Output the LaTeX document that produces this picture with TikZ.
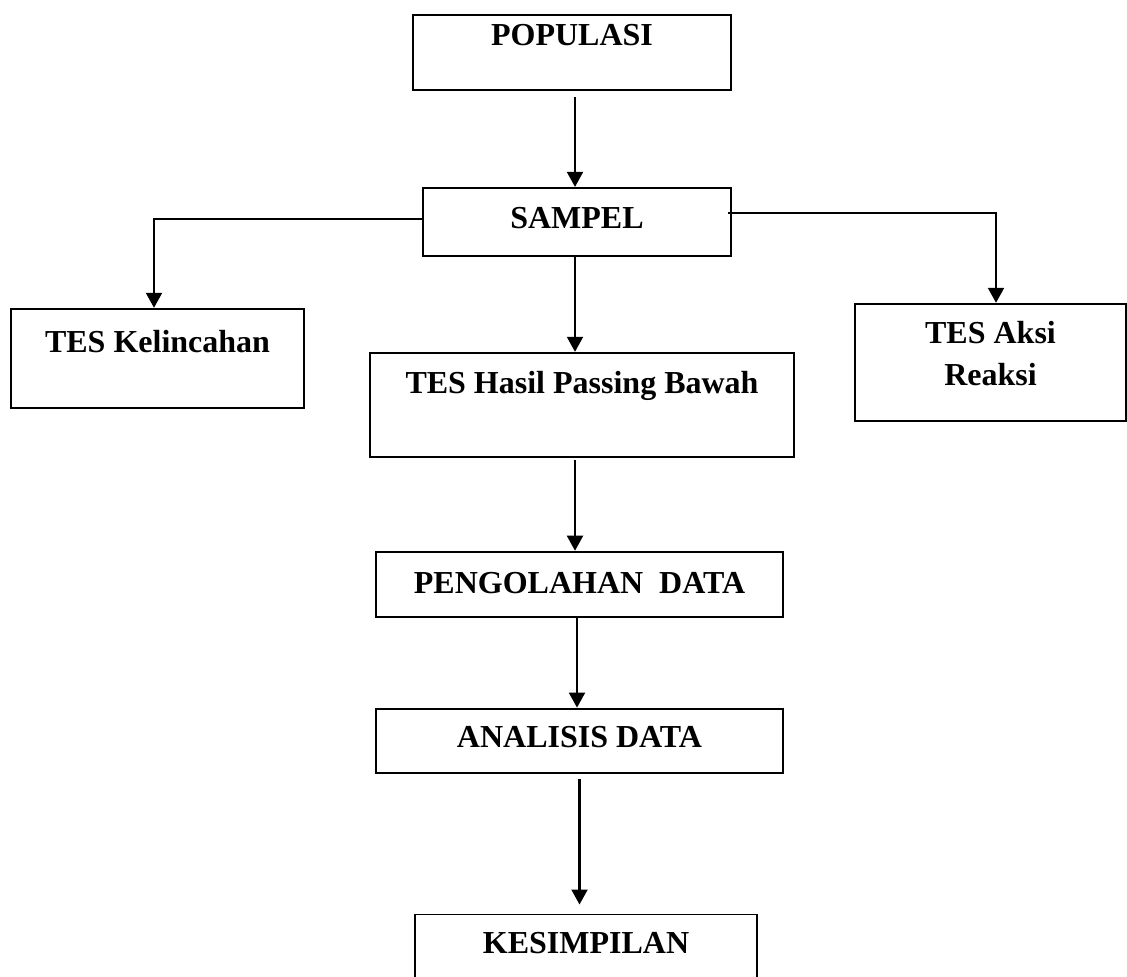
\documentclass[tikz,border=0pt]{standalone}
\usepackage{fontspec}
\setmainfont{Liberation Serif}
\usetikzlibrary{arrows.meta,positioning}

\begin{document}
\begin{tikzpicture}[
  every node/.style={font=\fontsize{16pt}{21pt}\selectfont\bfseries, align=center},
  stage/.style={draw, line width=0.95pt, inner xsep=0pt, inner ysep=0pt},
  edge/.style={-{Triangle[length=7.5pt, width=8pt]}, line width=1.05pt}
]
\useasboundingbox (0,0) rectangle (563.5pt,488pt);
\clip (0,0) rectangle (563.5pt,488pt);

\node[stage, anchor=north, minimum width=159pt, text height=15.5pt, text depth=22pt] (populasi) at (286pt,481pt) {POPULASI};
\node[stage, below=48pt of populasi, xshift=2.5pt, minimum width=154pt, text height=20.5pt, text depth=13.5pt] (sampel) {SAMPEL};
\node[stage, below=25.5pt of sampel, xshift=-209.75pt, minimum width=146.5pt, text height=22pt, text depth=27.5pt] (lincah) {TES Kelincahan};
\node[stage, below=47.5pt of sampel, xshift=2.5pt, minimum width=212pt, text height=20.5pt, text depth=31.5pt] (passing) {TES Hasil Passing Bawah};
\node[stage, below=23pt of sampel, xshift=206.75pt, minimum width=135.5pt, text height=41pt, text depth=17.5pt] (aksi) {TES Aksi\\Reaksi};
\node[stage, below=46.5pt of passing, xshift=-1.25pt, minimum width=203.5pt, text height=21pt, text depth=11.5pt] (olah) {PENGOLAHAN\ \ DATA};
\node[stage, below=45pt of olah, minimum width=203.5pt, text height=19.5pt, text depth=12.5pt] (analisis) {ANALISIS DATA};
\node[stage, below=70pt of analisis, xshift=3.25pt, minimum width=171pt, text height=19.5pt, text depth=30pt] (simpulan) {KESIMPILAN};

\draw[edge, shorten <=3pt] ([xshift=1.5pt]populasi.south) -- ([xshift=1.5pt]populasi.south |- sampel.north);
\draw[edge] ([yshift=1.5pt]sampel.west) -| ([xshift=-1.75pt]lincah.north);
\draw[edge] ([xshift=-2pt,yshift=4.5pt]sampel.east) -| ([xshift=2.75pt]aksi.north);
\draw[edge] ([xshift=-1pt]sampel.south) -- ([xshift=-1pt]sampel.south |- passing.north);
\draw[edge, shorten <=1pt] ([xshift=-3.5pt]passing.south) -- ([xshift=-3.5pt]passing.south |- olah.north);
\draw[edge] ([xshift=-1.25pt]olah.south) -- ([xshift=-1.25pt]olah.south |- analisis.north);
\draw[edge, shorten <=2.5pt, shorten >=4.5pt] (analisis.south) -- (analisis.south |- simpulan.north);
\end{tikzpicture}
\end{document}
